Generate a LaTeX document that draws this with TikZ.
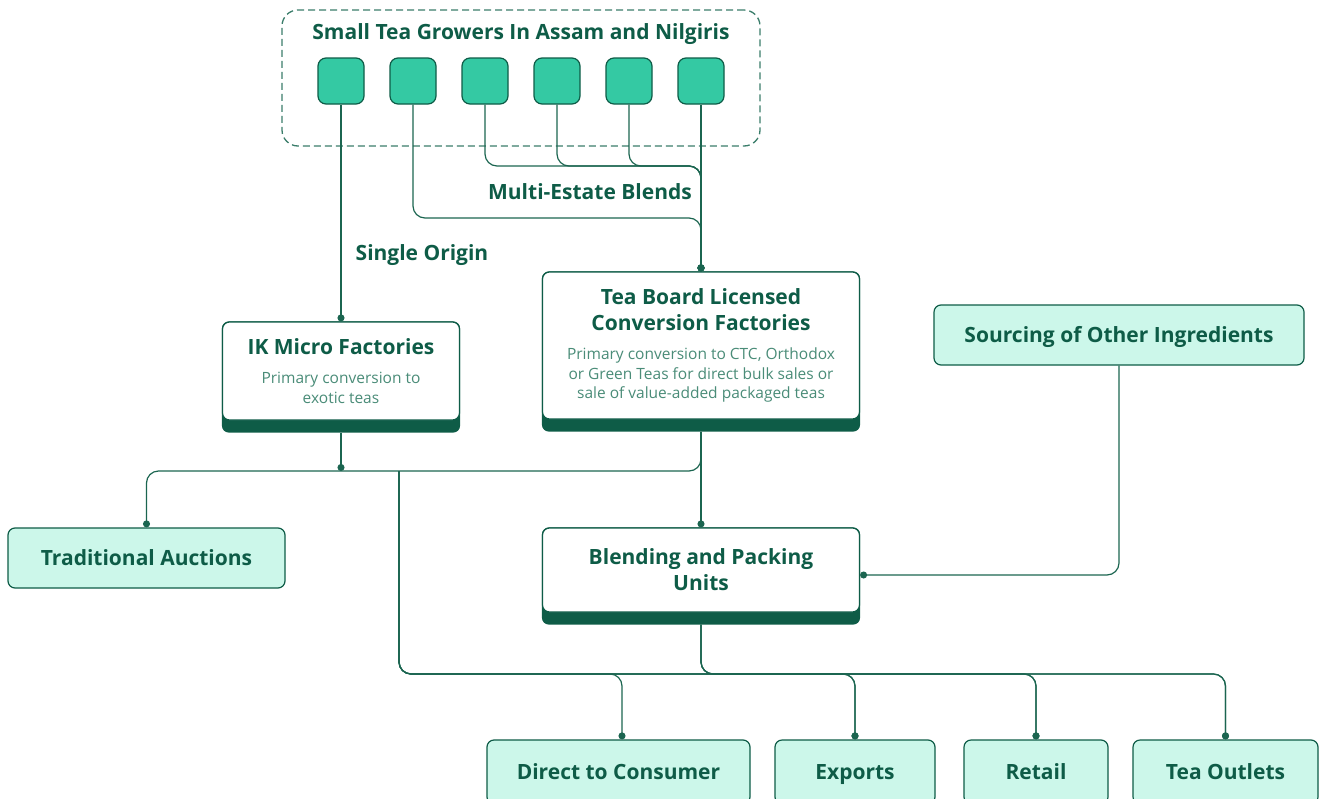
\documentclass[tikz,border=0pt]{standalone}
\usepackage{fontspec}
\setmainfont{Open Sans}
\usetikzlibrary{arrows.meta,backgrounds}

\definecolor{deep}{HTML}{0E5C47}
\definecolor{wirecol}{HTML}{1B6550}
\definecolor{soft}{HTML}{4A8C78}
\definecolor{mint}{HTML}{CCF7EA}
\definecolor{leaf}{HTML}{34C9A3}
\definecolor{dashcol}{HTML}{3A7D6A}

\newcommand\headfont{\fontsize{21}{26}\selectfont\bfseries\color{deep}}
\newcommand\notefont{\fontsize{15.5}{19.5}\selectfont\mdseries\color{soft}}

\tikzset{
  card/.style={draw=deep, line width=1.2pt, fill=white, rounded corners=7pt,
    align=center, inner sep=0pt, font=\headfont},
  pill/.style={draw=deep, line width=1.2pt, fill=mint, rounded corners=7pt,
    inner sep=0pt, font=\headfont, text height=15pt, text depth=0.5pt},
  grower/.style={draw=deep, line width=1.2pt, fill=leaf, rounded corners=8pt,
    minimum width=46pt, minimum height=46pt, inner sep=0pt},
  wire/.style={draw=wirecol, line width=1.2pt, rounded corners=12pt},
  tap/.style={wire, -{Circle[length=7pt,width=7pt]}},
  tag/.style={font=\headfont, inner sep=0pt},
}

\begin{document}
\begin{tikzpicture}[x=1pt, y=-1pt]
\useasboundingbox (0,0) rectangle (1320,798);
\clip (0,0) rectangle (1320,798);

% growers group
\node[draw=dashcol, dash pattern=on 7pt off 4pt, line width=1.3pt,
      rounded corners=16pt, minimum width=478pt, minimum height=136pt] (grp) at (521,78) {};
\node[tag] (grpt) at (521,34.5) {Small Tea Growers In Assam and Nilgiris};
\node[grower] (g1) at (341,81) {};
\node[grower] (g2) at (413,81) {};
\node[grower] (g3) at (485,81) {};
\node[grower] (g4) at (557,81) {};
\node[grower] (g5) at (629,81) {};
\node[grower] (g6) at (701,81) {};

% route labels
\node[tag] (lmulti) at (590,191.5) {Multi-Estate Blends};
\node[tag] (lsingle) at (422,255.5) {Single Origin};

% factories and units
\node[card, minimum width=237pt, minimum height=98pt] (ik) at (341,371)
  {IK Micro Factories\\[3pt]\notefont Primary conversion to\\[-6.5pt]\notefont exotic teas};
\node[card, minimum width=317pt, minimum height=147pt] (tb) at (701,345.5)
  {Tea Board Licensed\\Conversion Factories\\[3pt]\notefont Primary conversion to CTC, Orthodox\\[-6.5pt]\notefont or Green Teas for direct bulk sales or\\[-6.5pt]\notefont sale of value-added packaged teas};
\node[card, minimum width=317pt, minimum height=84pt] (bl) at (701,570)
  {Blending and Packing\\Units};

\node[pill, minimum width=277pt, minimum height=60pt] (ta) at (146.5,558) {Traditional Auctions};
\node[pill, minimum width=370pt, minimum height=60pt] (so) at (1119,335) {Sourcing of Other Ingredients};

% outlets
\node[pill, minimum width=263pt, minimum height=64pt] (dc) at (618.5,772) {Direct to Consumer};
\node[pill, minimum width=160pt, minimum height=64pt] (ex) at (855,772) {Exports};
\node[pill, minimum width=144pt, minimum height=64pt] (rt) at (1036,772) {Retail};
\node[pill, minimum width=185pt, minimum height=64pt] (to) at (1225.5,772) {Tea Outlets};

% dark base bands under the white cards
\begin{scope}[on background layer]
  \foreach \c in {ik,tb,bl}
    \fill[deep, rounded corners=7pt] ([yshift=-12pt]\c.south west) rectangle (\c.north east);
\end{scope}

\coordinate (ikb) at ([yshift=-12pt]ik.south);
\coordinate (tbb) at ([yshift=-12pt]tb.south);
\coordinate (blb) at ([yshift=-12pt]bl.south);
\coordinate (rowA) at (0,166);
\coordinate (rowB) at (0,218);
\coordinate (rowC) at (0,471);
\coordinate (rowD) at (0,674);
\coordinate (split) at (399,471);
\coordinate (dcin) at ([xshift=3.5pt]dc.north);

% growers to factories
\draw[tap] (g1) -- (ik);
\draw[tap] (g2.south) |- (tb.north |- rowB) -- (tb.north);
\foreach \g in {g3,g4,g5}
  \draw[tap] (\g.south) |- (tb.north |- rowA) -- (tb.north);
\draw[tap] (g6) -- (tb);

% factories onward
\draw[tap] (ikb) -- (ikb |- rowC);
\draw[tap] (tbb) -- (bl.north);
\draw[tap] (tbb) |- (ta.north |- rowC) -- (ta.north);
\draw[tap] (split) |- (dcin |- rowD) -- (dcin);
\foreach \t in {ex,rt,to}
  \draw[tap] (split) |- (\t.north |- rowD) -- (\t.north);
\foreach \t in {ex,rt,to}
  \draw[tap] (blb) |- (\t.north |- rowD) -- (\t.north);
\draw[tap] (so.south) |- ([yshift=-5pt]bl.east);
\end{tikzpicture}
\end{document}
